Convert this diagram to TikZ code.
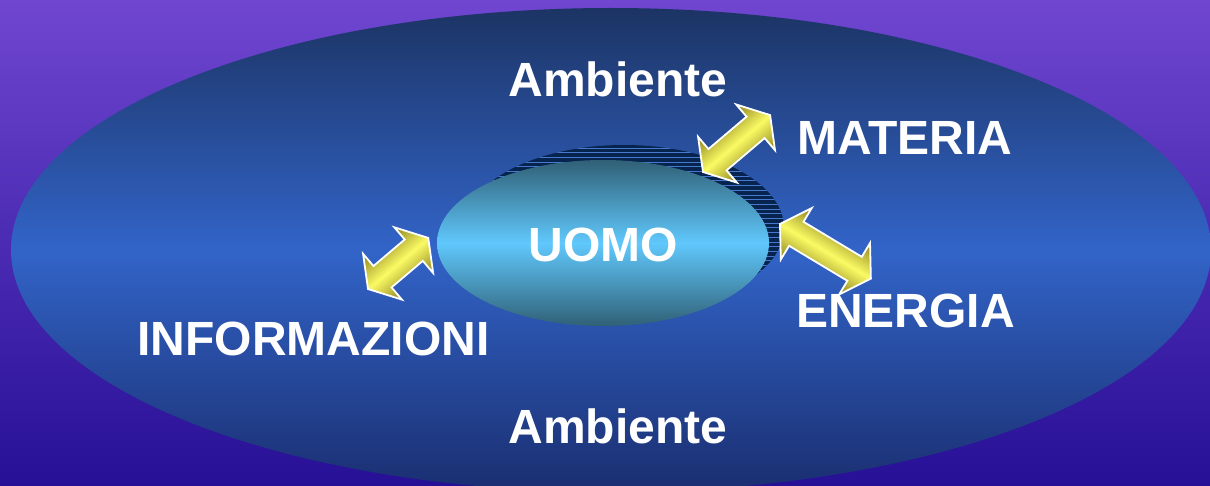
\documentclass[tikz,border=0pt]{standalone}
\usepackage{fontspec}
\setmainfont{Liberation Sans}
\definecolor{bgtop}{RGB}{112,70,208}
\definecolor{bgbot}{RGB}{38,16,150}
\definecolor{envtop}{RGB}{28,52,100}
\definecolor{envmid}{RGB}{50,100,200}
\definecolor{envbot}{RGB}{26,46,112}
\definecolor{shadowc}{RGB}{6,36,78}
\definecolor{hatchc}{RGB}{70,120,205}
\definecolor{uomoedge}{RGB}{48,96,118}
\definecolor{uomomid}{RGB}{96,200,252}
\definecolor{arredge}{RGB}{140,130,30}
\definecolor{arrmid}{RGB}{250,250,100}
\newcommand\blockarrow[4]{%
  \begin{scope}[transform canvas={shift={(#1,#2)},rotate=#3}]
    \shade[arrowbody] (0,0) -- (19,-30) -- (19,-14) -- ({#4-19},-14) -- ({#4-19},-30)
      -- (#4,0) -- ({#4-19},30) -- ({#4-19},14) -- (19,14) -- (19,30) -- cycle;
  \end{scope}}
\begin{document}
\begin{tikzpicture}[x=1pt,y=-1pt,
  lbl/.style={text=white,font=\fontsize{48}{50}\selectfont\bfseries,inner sep=0pt,anchor=base},
  arrowbody/.style={top color=arredge,bottom color=arredge,middle color=arrmid,draw=white,line width=1.8pt,line join=miter},
  hatch/.style={draw=hatchc,line width=0.9pt}]
\useasboundingbox (0,0) rectangle (1210,486);
% background
\shade[top color=bgtop,bottom color=bgbot] (0,0) rectangle (1210,486);
% environment ellipse
\shade[top color=envtop,bottom color=envbot,middle color=envmid] (611,250) ellipse [x radius=600pt,y radius=242pt];
% hatched shadow
\begin{scope}
  \clip (624,228) ellipse [x radius=160pt,y radius=83pt];
  \fill[shadowc] (460,140) rectangle (790,320);
  \foreach \yy in {148,152.7,...,320} \draw[hatch] (460,\yy) -- (790,\yy);
\end{scope}
% UOMO ellipse
\shade[top color=uomoedge,bottom color=uomoedge,middle color=uomomid] (603,243) ellipse [x radius=166pt,y radius=83pt];
\node[lbl] (uomo) at (603,262) {UOMO};
% labels
\node[lbl] (amb1) at (618,97) {Ambiente};
\node[lbl] (amb2) at (618,443) {Ambiente};
\node[lbl] (mat) at (905,155) {MATERIA};
\node[lbl] (ene) at (905.5,327) {ENERGIA};
\node[lbl] (inf) at (313.5,355) {INFORMAZIONI};
% arrows
\blockarrow{703}{172}{40.3}{88}
\blockarrow{780}{224}{-31}{106}
\blockarrow{368}{289}{40.3}{79}
\end{tikzpicture}
\end{document}
